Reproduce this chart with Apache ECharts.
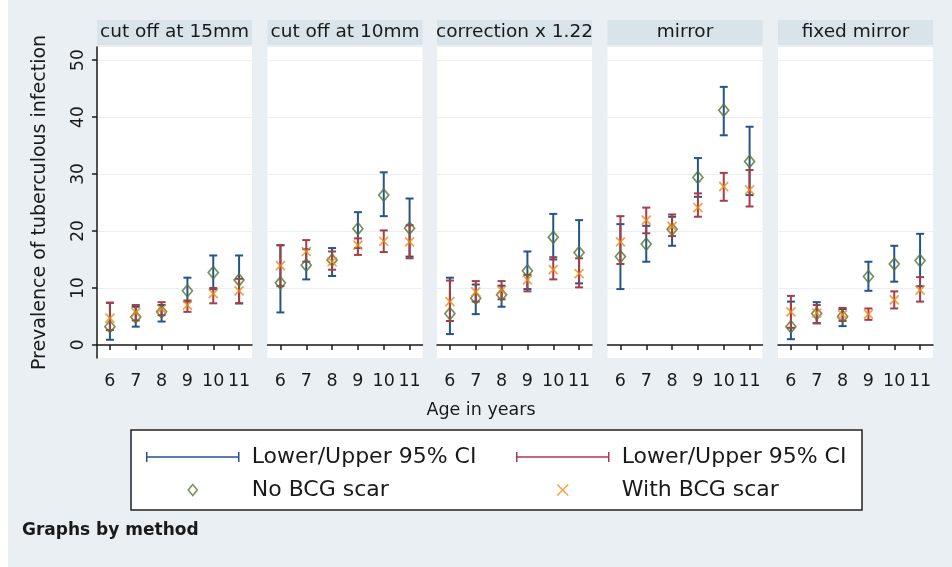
<!DOCTYPE html>
<html>
<head>
<meta charset="utf-8">
<script src="https://cdn.jsdelivr.net/npm/echarts@6/dist/echarts.min.js"></script>
<style>html,body{margin:0;padding:0;background:#fff}#c{width:952px;height:567px}</style>
</head>
<body>
<div id="c"></div>
<script>
// ---- data ----
const ages = ['6', '7', '8', '9', '10', '11'];
const methods = ['cut off at 15mm', 'cut off at 10mm', 'correction x 1.22', 'mirror', 'fixed mirror'];
const yTicks = [0, 10, 20, 30, 40, 50];

// No BCG scar: estimate, lower and upper 95% CI (one row per method)
const noBcgEst = [
  [3.2, 4.9, 5.8, 9.5, 12.7, 11.4],
  [10.9, 14.0, 14.9, 20.4, 26.3, 20.5],
  [5.5, 8.2, 8.8, 13.0, 18.9, 16.2],
  [15.5, 17.7, 20.3, 29.4, 41.2, 32.2],
  [3.2, 5.5, 5.0, 12.0, 14.2, 14.8]
];
const noBcgLo = [
  [0.9, 3.2, 4.1, 7.6, 9.8, 7.3],
  [5.7, 11.5, 12.1, 17.0, 22.6, 15.5],
  [1.9, 5.4, 6.7, 9.8, 15.0, 10.8],
  [9.8, 14.6, 17.4, 26.0, 36.8, 26.3],
  [1.0, 3.8, 3.3, 9.5, 11.1, 10.3]
];
const noBcgHi = [
  [7.4, 6.7, 7.0, 11.8, 15.7, 15.7],
  [17.5, 16.8, 17.0, 23.3, 30.3, 25.7],
  [11.8, 10.6, 10.4, 16.4, 23.0, 21.9],
  [21.2, 20.9, 22.5, 32.8, 45.3, 38.3],
  [7.6, 7.5, 6.3, 14.6, 17.4, 19.5]
];
// With BCG scar
const bcgEst = [
  [4.7, 5.7, 6.3, 7.0, 9.0, 9.5],
  [13.9, 16.4, 14.6, 17.5, 18.2, 18.1],
  [7.6, 9.3, 9.6, 11.4, 13.2, 12.5],
  [18.1, 21.9, 20.8, 24.1, 27.8, 27.2],
  [5.8, 5.6, 5.3, 5.4, 7.9, 9.6]
];
const bcgLo = [
  [2.6, 4.3, 5.2, 5.8, 7.3, 7.3],
  [10.3, 14.6, 13.2, 15.8, 16.3, 15.2],
  [4.2, 7.6, 8.0, 9.4, 11.5, 10.1],
  [14.2, 19.6, 19.1, 22.5, 25.3, 24.3],
  [3.0, 3.8, 4.2, 4.4, 6.4, 7.6]
];
const bcgHi = [
  [7.4, 7.0, 7.5, 7.8, 10.0, 11.6],
  [17.5, 18.4, 16.4, 18.7, 20.1, 21.0],
  [11.3, 11.2, 11.2, 12.3, 15.4, 15.2],
  [22.6, 24.1, 22.9, 26.6, 30.2, 30.7],
  [8.6, 7.0, 6.5, 6.4, 9.4, 11.9]
];

// ---- style / layout ----
const FONT = 'DejaVu Sans';
const C_BLUE = '#24548a', C_RED = '#a53d4a', C_GREEN = '#55752f', C_ORANGE = '#ee8a1a';
const BG = '#e9eff3', STRIP = '#d8e3ea', INK = '#1a1a1a';
const gridLefts = [97, 267.5, 437, 607.5, 778];
const gridW = 155, gridTop = 47, gridH = 311;

const names = {ciNo: 'Lower/Upper 95% CI', ciBcg: 'Lower/Upper 95% CI', noBcg: 'No BCG scar', bcg: 'With BCG scar'};

function ciRender(color) {
  return function (params, api) {
    const x = api.value(0);
    const pLo = api.coord([x, api.value(1)]);
    const pHi = api.coord([x, api.value(2)]);
    const hw = 4;
    const style = {stroke: color, lineWidth: 2, fill: null};
    return {type: 'group', children: [
      {type: 'line', shape: {x1: pLo[0], y1: pLo[1], x2: pHi[0], y2: pHi[1]}, style: style},
      {type: 'line', shape: {x1: pLo[0] - hw, y1: pLo[1], x2: pLo[0] + hw, y2: pLo[1]}, style: style},
      {type: 'line', shape: {x1: pHi[0] - hw, y1: pHi[1], x2: pHi[0] + hw, y2: pHi[1]}, style: style}
    ]};
  };
}

const diamondPath = 'path://M5,0L10,6L5,12L0,6Z';
const crossPath = 'path://M0,0L10,10M10,0L0,10';

const grids = [], xAxes = [], yAxes = [], series = [];
methods.forEach(function (m, i) {
  grids.push({left: gridLefts[i], top: gridTop, width: gridW, height: gridH,
    show: true, backgroundColor: '#ffffff', borderWidth: 0});
  xAxes.push({
    type: 'category', gridIndex: i, data: ages, boundaryGap: true,
    axisLine: {show: true, lineStyle: {color: INK, width: 1.5}},
    axisTick: {show: true, alignWithLabel: true, length: 5, lineStyle: {color: INK, width: 1.5}},
    axisLabel: {show: true, interval: 0, margin: 14, fontFamily: FONT, fontSize: 17.5, color: INK},
    splitLine: {show: false}
  });
  yAxes.push({
    type: 'value', gridIndex: i, min: -2.3, max: 52.3,
    axisLine: {show: i === 0, lineStyle: {color: INK, width: 1.5}},
    axisTick: {show: i === 0, length: 5, customValues: yTicks, lineStyle: {color: INK, width: 1.5}},
    axisLabel: {show: i === 0, customValues: yTicks, rotate: 90, margin: 10, fontFamily: FONT, fontSize: 17, color: INK},
    splitLine: {show: true, lineStyle: {color: '#eaeff2', width: 1}},
    name: i === 0 ? 'Prevalence of tuberculous infection' : '',
    nameLocation: 'middle', nameGap: 47, nameRotate: 90,
    nameTextStyle: {fontFamily: FONT, fontSize: 19, color: INK}
  });
  series.push({
    type: 'custom', name: 'ciNo', xAxisIndex: i, yAxisIndex: i, color: C_BLUE,
    renderItem: ciRender(C_BLUE), encode: {x: 0, y: [1, 2]},
    data: ages.map(function (a, j) { return [j, noBcgLo[i][j], noBcgHi[i][j]]; }), z: 2
  });
  series.push({
    type: 'custom', name: 'ciBcg', xAxisIndex: i, yAxisIndex: i, color: C_RED,
    renderItem: ciRender(C_RED), encode: {x: 0, y: [1, 2]},
    data: ages.map(function (a, j) { return [j, bcgLo[i][j], bcgHi[i][j]]; }), z: 3
  });
  series.push({
    type: 'scatter', name: 'noBcg', xAxisIndex: i, yAxisIndex: i,
    symbol: 'diamond', symbolSize: [10, 12],
    itemStyle: {color: 'transparent', borderColor: C_GREEN, borderWidth: 1.7},
    data: ages.map(function (a, j) { return [j, noBcgEst[i][j]]; }), z: 4
  });
  series.push({
    type: 'scatter', name: 'bcg', xAxisIndex: i, yAxisIndex: i,
    symbol: crossPath, symbolSize: [9, 9],
    itemStyle: {color: 'transparent', borderColor: C_ORANGE, borderWidth: 1.7},
    data: ages.map(function (a, j) { return [j, bcgEst[i][j]]; }), z: 5
  });
});

const graphics = [
  {type: 'rect', shape: {x: 0, y: 0, width: 952, height: 567}, style: {fill: BG}, z: -10, silent: true},
  {type: 'rect', shape: {x: 0, y: 0, width: 8, height: 567}, style: {fill: '#ffffff'}, z: -9, silent: true},
  {type: 'rect', shape: {x: 131, y: 430, width: 731, height: 80}, style: {fill: '#ffffff', stroke: '#222', lineWidth: 1.5}, z: -5, silent: true},
  {type: 'text', x: 481, y: 410, style: {text: 'Age in years', font: '17.5px "DejaVu Sans"', fill: INK, textAlign: 'center', textVerticalAlign: 'middle'}, silent: true},
  {type: 'text', x: 22, y: 531, style: {text: 'Graphs by method', font: 'bold 17px "DejaVu Sans"', fill: INK, textAlign: 'left', textVerticalAlign: 'middle'}, silent: true}
];
methods.forEach(function (m, i) {
  graphics.push({type: 'rect', shape: {x: gridLefts[i], y: 20, width: gridW, height: 25}, style: {fill: STRIP}, z: -8, silent: true});
  graphics.push({type: 'text', x: gridLefts[i] + gridW / 2, y: 32, style: {text: m, font: '18.5px "DejaVu Sans"', fill: INK, textAlign: 'center', textVerticalAlign: 'middle'}, silent: true});
});

const legendCommon = {
  orient: 'vertical', top: 446, padding: 0, itemWidth: 92, itemHeight: 11, itemGap: 11,
  selectedMode: false, z: 10,
  formatter: function (n) { return names[n]; },
  textStyle: {fontFamily: FONT, fontSize: 22, color: INK, lineHeight: 22, padding: [0, 0, 0, 8]}
};
const capIcon = 'path://M0,0L0,10M0,5L92,5M92,0L92,10';

const option = {
  animation: false,
  backgroundColor: BG,
  grid: grids, xAxis: xAxes, yAxis: yAxes, series: series,
  graphic: graphics,
  legend: [
    Object.assign({}, legendCommon, {left: 146, data: [
      {name: 'ciNo', icon: capIcon, itemStyle: {color: 'transparent', borderColor: C_BLUE, borderWidth: 1.5}},
      {name: 'noBcg', icon: diamondPath, itemStyle: {color: 'transparent', borderColor: C_GREEN, borderWidth: 1.5}}
    ]}),
    Object.assign({}, legendCommon, {left: 516, data: [
      {name: 'ciBcg', icon: capIcon, itemStyle: {color: 'transparent', borderColor: C_RED, borderWidth: 1.5}},
      {name: 'bcg', icon: crossPath, itemStyle: {color: 'transparent', borderColor: C_ORANGE, borderWidth: 1.5}}
    ]})
  ]
};

const chart = echarts.init(document.getElementById('c'), null, {renderer: 'canvas'});
chart.setOption(option);
</script>
</body>
</html>
